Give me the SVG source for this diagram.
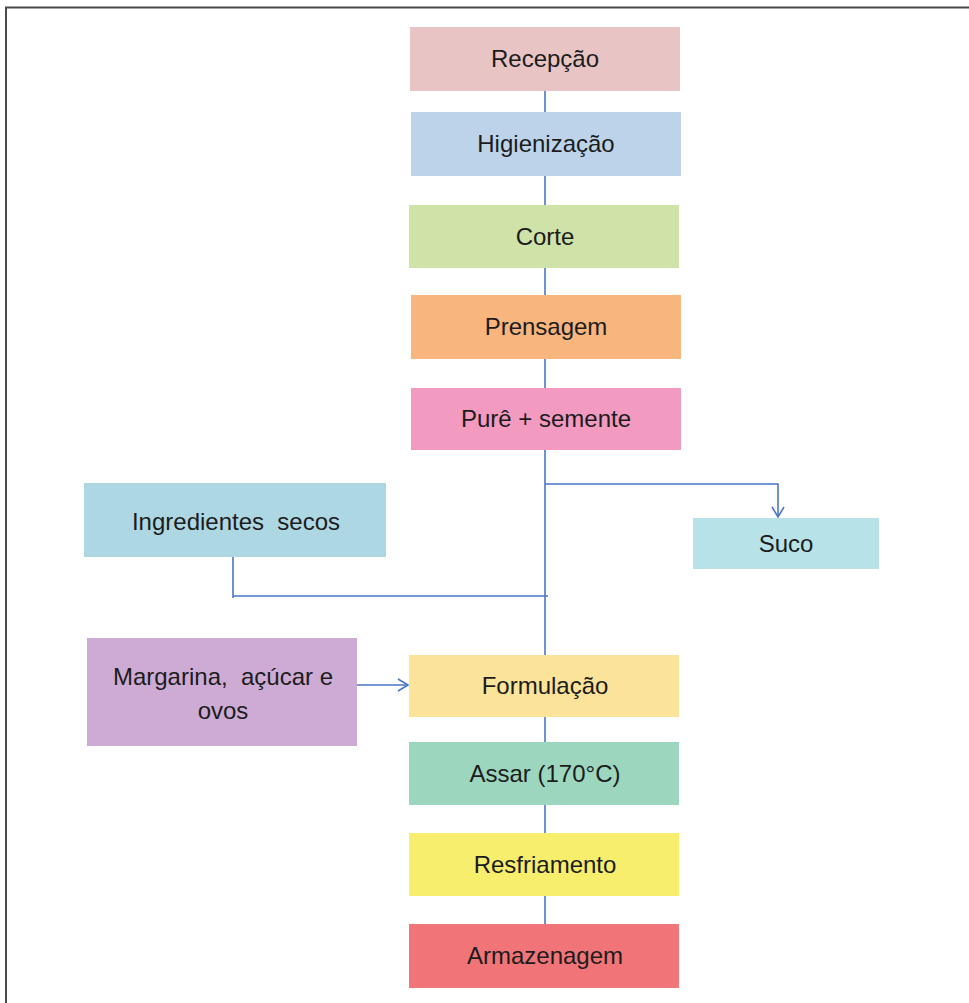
<svg xmlns="http://www.w3.org/2000/svg" width="969" height="1003" viewBox="0 0 969 1003">
  <style>
    .box { stroke: none; }
    .lbl { font-family: "Liberation Sans", Arial, sans-serif; font-size: 24px; fill: #1c1c1c; text-anchor: middle; white-space: pre; }
    .wire { fill: none; stroke: #4a76c8; stroke-width: 1.6; }
  </style>
  <defs>
    <marker id="open-arrow" markerWidth="14" markerHeight="14" refX="11" refY="7" orient="auto" markerUnits="userSpaceOnUse">
      <path d="M1,1 L11,7 L1,13" fill="none" stroke="#4a76c8" stroke-width="1.6"/>
    </marker>
  </defs>

  <rect width="969" height="1003" fill="#ffffff"/>
  <!-- page frame -->
  <path d="M6,1003 V7.5 H969" fill="none" stroke="#4a4a4a" stroke-width="2"/>

  <g id="connectors">
    <line class="wire" x1="545" y1="91" x2="545" y2="112"/>
    <line class="wire" x1="545" y1="176" x2="545" y2="205"/>
    <line class="wire" x1="545" y1="268" x2="545" y2="295"/>
    <line class="wire" x1="545" y1="359" x2="545" y2="388"/>
    <line class="wire" x1="545" y1="450" x2="545" y2="655"/>
    <path class="wire" d="M545,484 H778 V517" marker-end="url(#open-arrow)"/>
    <path class="wire" d="M233,557 V598 M233,596 H548"/>
    <line class="wire" x1="357" y1="685" x2="408" y2="685" marker-end="url(#open-arrow)"/>
    <line class="wire" x1="545" y1="717" x2="545" y2="742"/>
    <line class="wire" x1="545" y1="805" x2="545" y2="833"/>
    <line class="wire" x1="545" y1="896" x2="545" y2="924"/>
  </g>

  <g id="recepcao">
    <rect class="box" x="410" y="27" width="270" height="64" fill="#e8c4c4"/>
    <text class="lbl" x="545" y="67">Recepção</text>
  </g>
  <g id="higienizacao">
    <rect class="box" x="411" y="112" width="270" height="64" fill="#bdd3ea"/>
    <text class="lbl" x="546" y="152">Higienização</text>
  </g>
  <g id="corte">
    <rect class="box" x="409" y="205" width="270" height="63" fill="#cfe3a8"/>
    <text class="lbl" x="545" y="245">Corte</text>
  </g>
  <g id="prensagem">
    <rect class="box" x="411" y="295" width="270" height="64" fill="#f8b57e"/>
    <text class="lbl" x="546" y="335">Prensagem</text>
  </g>
  <g id="pure-semente">
    <rect class="box" x="411" y="388" width="270" height="62" fill="#f29ac0"/>
    <text class="lbl" x="546" y="427">Purê + semente</text>
  </g>
  <g id="ingredientes-secos">
    <rect class="box" x="84" y="483" width="302" height="74" fill="#acd7e3"/>
    <text class="lbl" x="236" y="530">Ingredientes  secos</text>
  </g>
  <g id="suco">
    <rect class="box" x="693" y="518" width="186" height="51" fill="#b7e2e8"/>
    <text class="lbl" x="786" y="552">Suco</text>
  </g>
  <g id="margarina">
    <rect class="box" x="87" y="638" width="270" height="108" fill="#ceabd4"/>
    <text class="lbl" x="223" y="685">Margarina,  açúcar e</text>
    <text class="lbl" x="223" y="719">ovos</text>
  </g>
  <g id="formulacao">
    <rect class="box" x="409" y="655" width="270" height="62" fill="#fbe399"/>
    <text class="lbl" x="545" y="694">Formulação</text>
  </g>
  <g id="assar">
    <rect class="box" x="409" y="742" width="270" height="63" fill="#9dd6bf"/>
    <text class="lbl" x="545" y="782">Assar (170°C)</text>
  </g>
  <g id="resfriamento">
    <rect class="box" x="409" y="833" width="270" height="63" fill="#f7ee6e"/>
    <text class="lbl" x="545" y="873">Resfriamento</text>
  </g>
  <g id="armazenagem">
    <rect class="box" x="409" y="924" width="270" height="64" fill="#f07478"/>
    <text class="lbl" x="545" y="964">Armazenagem</text>
  </g>
</svg>
